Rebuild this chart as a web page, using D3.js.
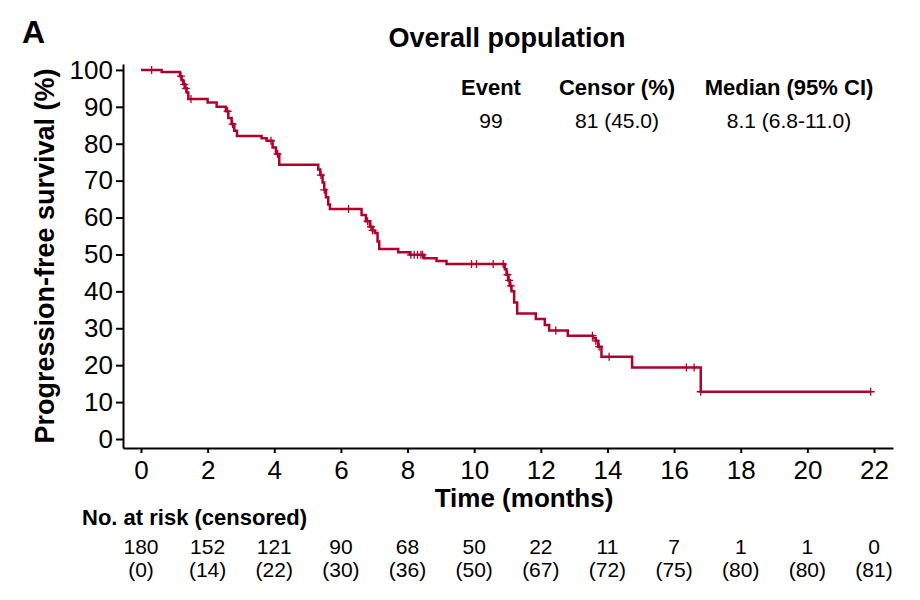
<!DOCTYPE html>
<html>
<head>
<meta charset="utf-8">
<script src="https://cdn.jsdelivr.net/npm/d3@7"></script>
<style>
  body { margin: 0; background: #fff; }
  svg { font-family: "Liberation Sans", Arial, Helvetica, sans-serif; }
</style>
</head>
<body>
<div id="chart"></div>
<script>
// Kaplan-Meier steps: time (months) and survival (%) after each drop
const eventTimes = [0, 0.62, 1.17, 1.22, 1.27, 1.32, 1.37, 1.42, 2.0, 2.27, 2.55, 2.62, 2.72, 2.8, 2.88,
  3.62, 3.77, 3.95, 4.05, 4.15, 5.32, 5.38, 5.45, 5.5, 5.55, 5.62, 5.67, 6.62, 6.75, 6.87, 6.95, 7.02,
  7.1, 7.15, 7.72, 8.07, 8.5, 8.87, 9.17, 10.92, 10.97, 11.02, 11.07, 11.12, 11.2, 11.29, 11.85, 12.12,
  12.25, 12.81, 13.57, 13.65, 13.72, 13.82, 14.74, 16.8];
const survival = [100, 99.4, 98.3, 97.2, 96.1, 95.0, 93.9, 92.1, 91.2, 90.0, 88.8, 87.0, 85.3, 83.5, 82.1,
  81.5, 80.8, 79.0, 77.2, 74.3, 73.0, 71.5, 69.5, 67.5, 65.5, 63.5, 62.3, 60.7, 59.0, 57.5, 56.5, 55.8,
  53.5, 51.5, 50.6, 49.9, 49.0, 48.2, 47.4, 46.0, 44.5, 43.0, 41.5, 40.0, 37.0, 34.0, 32.5, 30.9,
  29.4, 28.0, 27.3, 26.6, 25.0, 22.3, 19.4, 12.8];
const censorTimes = [0.32, 1.2, 1.3, 1.35, 1.5, 2.6, 2.75, 3.9, 4.1, 5.4, 5.5, 6.23, 6.8, 6.9, 6.95,
  8.1, 8.2, 8.3, 8.4, 8.45, 9.92, 10.07, 10.57, 10.87, 11.0, 11.05, 11.1, 12.45, 13.55, 13.65, 13.75,
  14.05, 16.37, 16.6, 16.8, 21.9];
const lastTime = 21.9;

// Risk table
const riskTimes = [0, 2, 4, 6, 8, 10, 12, 14, 16, 18, 20, 22];
const atRisk = [180, 152, 121, 90, 68, 50, 22, 11, 7, 1, 1, 0];
const censored = [0, 14, 22, 30, 36, 50, 67, 72, 75, 80, 80, 81];

const yTicks = d3.range(0, 101, 10);
const xTicks = d3.range(0, 23, 2);

const statHeaders = ["Event", "Censor (%)", "Median (95% CI)"];
const statValues = ["99", "81 (45.0)", "8.1 (6.8-11.0)"];

const width = 920;
const height = 600;
const lineColor = "#B0002C";

const svg = d3.select("#chart")
  .append("svg")
  .attr("width", width)
  .attr("height", height);

const x = d3.scaleLinear().domain([-0.54, 22.57]).range([123, 893]);
const y = d3.scaleLinear().domain([-2.44, 101.6]).range([448, 64]);

// survival value at time t (step function)
function survAt(t) {
  let s = survival[0];
  eventTimes.forEach((et, i) => { if (et <= t) s = survival[i]; });
  return s;
}

// Axes
const yAxis = svg.append("g")
  .attr("transform", `translate(${x.range()[0]},0)`)
  .call(d3.axisLeft(y).tickValues(yTicks).tickSize(7).tickSizeOuter(0).tickPadding(3));
const xAxis = svg.append("g")
  .attr("transform", `translate(0,${y.range()[0]})`)
  .call(d3.axisBottom(x).tickValues(xTicks).tickSize(5).tickSizeOuter(0).tickPadding(8));

[yAxis, xAxis].forEach(a => {
  a.select(".domain").attr("stroke", "#000").attr("stroke-width", 2);
  a.selectAll(".tick line").attr("stroke", "#000").attr("stroke-width", 2);
  a.selectAll(".tick text").attr("fill", "#000").style("font-size", "26px")
    .style("font-family", "'Liberation Sans', Arial, sans-serif");
});

// KM curve
const pts = eventTimes.map((t, i) => [t, survival[i]]);
pts.push([lastTime, survAt(lastTime)]);

const line = d3.line()
  .x(d => x(d[0]))
  .y(d => y(d[1]))
  .curve(d3.curveStepAfter);

svg.append("path")
  .datum(pts)
  .attr("d", line)
  .attr("fill", "none")
  .attr("stroke", lineColor)
  .attr("stroke-width", 2.5);

// censor marks
svg.append("g")
  .selectAll("path")
  .data(censorTimes)
  .enter().append("path")
  .attr("d", d => {
    const cx = x(d), cy = y(survAt(d));
    return `M${cx - 4},${cy}H${cx + 4}M${cx},${cy - 4}V${cy + 4}`;
  })
  .attr("stroke", lineColor)
  .attr("stroke-width", 1.3)
  .attr("fill", "none");

// Titles
svg.append("text").attr("x", 22).attr("y", 43)
  .attr("font-size", "32px").attr("font-weight", "bold").text("A");

svg.append("text").attr("x", 507).attr("y", 47).attr("text-anchor", "middle")
  .attr("font-size", "27px").attr("font-weight", "bold").text("Overall population");

svg.append("text").attr("x", 524).attr("y", 507).attr("text-anchor", "middle")
  .attr("font-size", "26px").attr("font-weight", "bold").text("Time (months)");

svg.append("text")
  .attr("transform", "translate(54,256) rotate(-90)")
  .attr("text-anchor", "middle")
  .attr("font-size", "27px").attr("font-weight", "bold")
  .text("Progression-free survival (%)");

// Stats block
const statX = [491, 617, 789];
statHeaders.forEach((h, i) => {
  svg.append("text").attr("x", statX[i]).attr("y", 95).attr("text-anchor", "middle")
    .attr("font-size", "22px").attr("font-weight", "bold").text(h);
  svg.append("text").attr("x", statX[i]).attr("y", 128).attr("text-anchor", "middle")
    .attr("font-size", "21px").text(statValues[i]);
});

// Risk table
svg.append("text").attr("x", 82).attr("y", 525)
  .attr("font-size", "22px").attr("font-weight", "bold").text("No. at risk (censored)");

const risk = svg.append("g").selectAll("g")
  .data(riskTimes)
  .enter().append("g");
risk.append("text")
  .attr("x", d => x(d)).attr("y", 554).attr("text-anchor", "middle")
  .attr("font-size", "21px")
  .text((d, i) => atRisk[i]);
risk.append("text")
  .attr("x", d => x(d)).attr("y", 577).attr("text-anchor", "middle")
  .attr("font-size", "21px")
  .text((d, i) => `(${censored[i]})`);
</script>
</body>
</html>
